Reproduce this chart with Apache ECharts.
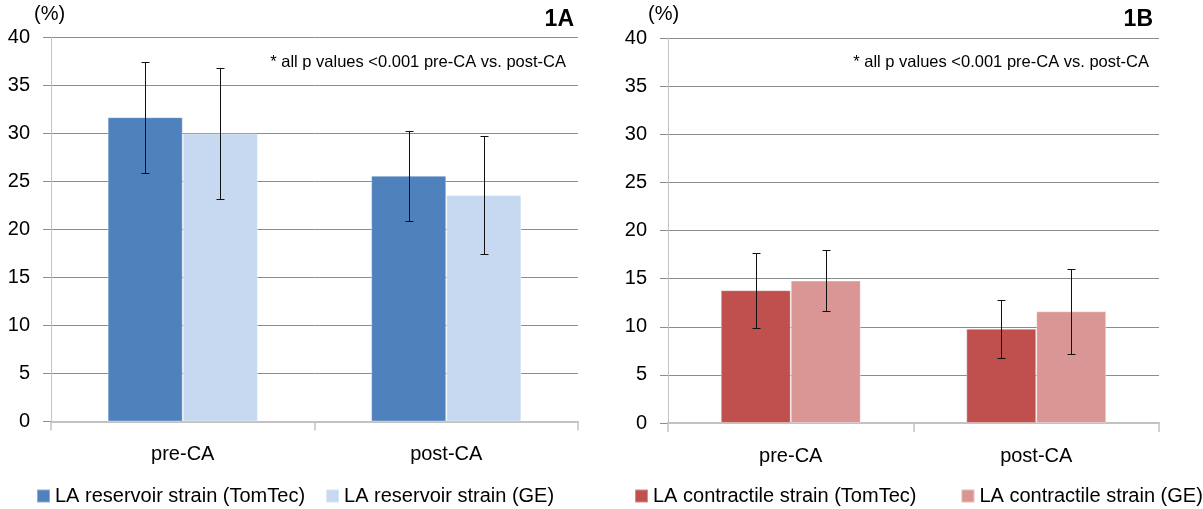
<!DOCTYPE html>
<html>
<head>
<meta charset="utf-8">
<title>LA strain pre-CA vs. post-CA</title>
<script src="https://cdn.jsdelivr.net/npm/echarts@6/dist/echarts.min.js"></script>
<style>
  html, body { margin: 0; padding: 0; background: #fff; }
  #chart { width: 1203px; height: 509px; }
</style>
</head>
<body>
<div id="chart"></div>
<script>
// Categories and tick settings
const categories = ['pre-CA', 'post-CA'];
const yMin = 0, yMax = 40, yStep = 5;

// Panel 1A: LA reservoir strain (mean and SD, %)
const reservoirTomTec = [31.7, 25.6];
const reservoirTomTecSD = [5.8, 4.7];
const reservoirGE = [30.0, 23.6];
const reservoirGESD = [6.8, 6.1];

// Panel 1B: LA contractile strain (mean and SD, %)
const contractileTomTec = [13.8, 9.8];
const contractileTomTecSD = [3.9, 3.0];
const contractileGE = [14.8, 11.6];
const contractileGESD = [3.2, 4.4];

const names = {
  resT: 'LA reservoir strain (TomTec)',
  resG: 'LA reservoir strain (GE)',
  conT: 'LA contractile strain (TomTec)',
  conG: 'LA contractile strain (GE)'
};

const FONT = 'Liberation Sans';
const CAT_GAP = 0.43;
const GRID_COLOR = '#8c8c8c';
const AXIS_COLOR = '#c2c2c2';

function errorData(means, sds) {
  return means.map((m, i) => [i, +(m - sds[i]).toFixed(2), +(m + sds[i]).toFixed(2)]);
}

// Draws a whisker with caps, shifted onto the left (-1) or right (+1) bar of a pair
function errorRenderer(slot) {
  return function (params, api) {
    const cat = api.value(0);
    const lo = api.coord([cat, api.value(1)]);
    const hi = api.coord([cat, api.value(2)]);
    const catW = api.size([1, 0])[0];
    const barW = catW * (1 - CAT_GAP) / 2;
    const x = Math.round(lo[0] + slot * barW / 2) + 0.5;
    const y1 = Math.round(lo[1]) + 0.5;
    const y2 = Math.round(hi[1]) + 0.5;
    const cap = 4;
    const style = { stroke: '#111', lineWidth: 1 };
    return {
      type: 'group',
      children: [
        { type: 'line', shape: { x1: x, y1: y1, x2: x, y2: y2 }, style: style },
        { type: 'line', shape: { x1: x - cap, y1: y1, x2: x + cap, y2: y1 }, style: style },
        { type: 'line', shape: { x1: x - cap, y1: y2, x2: x + cap, y2: y2 }, style: style }
      ]
    };
  };
}

function xAxisFor(gridIndex) {
  return {
    type: 'category', gridIndex: gridIndex, data: categories,
    axisLine: { lineStyle: { color: AXIS_COLOR, width: 2 } },
    axisTick: { show: true, length: 9, inside: false, lineStyle: { color: AXIS_COLOR, width: 1.5 } },
    axisLabel: { margin: 23, fontSize: 20, fontFamily: FONT, color: '#000' }
  };
}

function yAxisFor(gridIndex) {
  return {
    type: 'value', gridIndex: gridIndex, min: yMin, max: yMax, interval: yStep,
    axisLine: { show: true, lineStyle: { color: AXIS_COLOR, width: 1 } },
    axisTick: { show: true, length: 8, lineStyle: { color: GRID_COLOR } },
    splitLine: { show: true, lineStyle: { color: GRID_COLOR, width: 1 } },
    axisLabel: { margin: 21, fontSize: 20, fontFamily: FONT, color: '#000' }
  };
}

function barSeries(name, data, color, gridIndex) {
  return {
    name: name, type: 'bar', data: data,
    xAxisIndex: gridIndex, yAxisIndex: gridIndex,
    barGap: '0%', barCategoryGap: (CAT_GAP * 100) + '%',
    itemStyle: { color: color, borderColor: 'rgba(255,255,255,0.35)', borderWidth: 1 },
    z: 2
  };
}

function errorSeries(name, means, sds, slot, gridIndex) {
  return {
    name: name, type: 'custom',
    xAxisIndex: gridIndex, yAxisIndex: gridIndex,
    data: errorData(means, sds),
    encode: { x: 0, y: [1, 2] },
    renderItem: errorRenderer(slot),
    silent: true, z: 5
  };
}

const legendText = { fontSize: 20, fontFamily: FONT, color: '#000' };

const option = {
  animation: false,
  backgroundColor: '#fff',
  grid: [
    { left: 51, right: 625, top: 37.5, bottom: 87.5 },
    { left: 668, right: 44, top: 38, bottom: 86 }
  ],
  xAxis: [xAxisFor(0), xAxisFor(1)],
  yAxis: [yAxisFor(0), yAxisFor(1)],
  legend: [
    {
      left: 36, top: 486, padding: 0, itemWidth: 13, itemHeight: 13, itemGap: 20,
      icon: 'rect', data: [names.resT, names.resG], textStyle: legendText
    },
    {
      left: 634, top: 486, padding: 0, itemWidth: 13, itemHeight: 13, itemGap: 44,
      icon: 'rect', data: [names.conT, names.conG], textStyle: legendText
    }
  ],
  graphic: [
    { type: 'text', left: 34, top: 4, style: { text: '(%)', fontSize: 20, fontFamily: FONT, fill: '#000' } },
    { type: 'text', left: 648, top: 4, style: { text: '(%)', fontSize: 20, fontFamily: FONT, fill: '#000' } },
    { type: 'text', right: 629, top: 8, style: { text: '1A', fontSize: 23, fontWeight: 'bold', fontFamily: FONT, fill: '#000' } },
    { type: 'text', right: 50, top: 8, style: { text: '1B', fontSize: 23, fontWeight: 'bold', fontFamily: FONT, fill: '#000' } },
    { type: 'text', right: 637, top: 54, style: { text: '* all p values <0.001 pre-CA vs. post-CA', fontSize: 16.5, fontFamily: FONT, fill: '#000' } },
    { type: 'text', right: 54, top: 54, style: { text: '* all p values <0.001 pre-CA vs. post-CA', fontSize: 16.5, fontFamily: FONT, fill: '#000' } }
  ],
  series: [
    barSeries(names.resT, reservoirTomTec, '#4F81BD', 0),
    barSeries(names.resG, reservoirGE, '#C6D9F0', 0),
    barSeries(names.conT, contractileTomTec, '#C0504D', 1),
    barSeries(names.conG, contractileGE, '#D99694', 1),
    errorSeries('reservoir TomTec SD', reservoirTomTec, reservoirTomTecSD, -1, 0),
    errorSeries('reservoir GE SD', reservoirGE, reservoirGESD, 1, 0),
    errorSeries('contractile TomTec SD', contractileTomTec, contractileTomTecSD, -1, 1),
    errorSeries('contractile GE SD', contractileGE, contractileGESD, 1, 1)
  ]
};

const chart = echarts.init(document.getElementById('chart'), null, { renderer: 'canvas' });
chart.setOption(option);
</script>
</body>
</html>
